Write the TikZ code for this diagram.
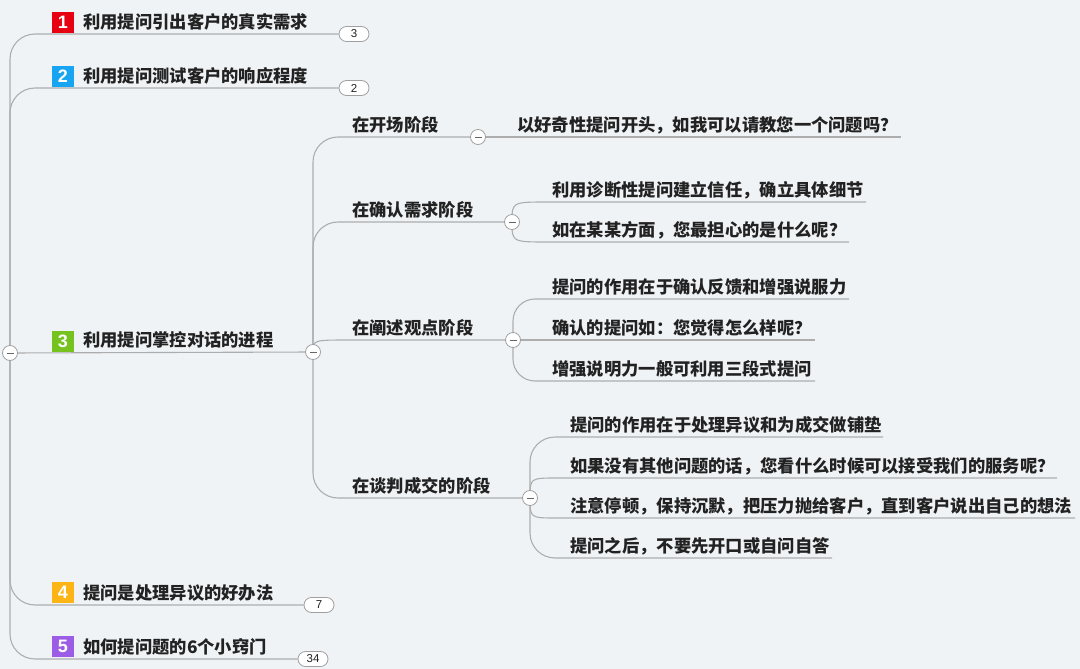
\documentclass[tikz,border=0pt]{standalone}
\usepackage{fontspec}
\newfontfamily\cjk{Noto Sans CJK SC}
\newfontfamily\numfont{Liberation Sans}
\usetikzlibrary{calc,backgrounds}
\definecolor{bg}{HTML}{F0F3F6}
\definecolor{ln}{HTML}{ADADAD}
\definecolor{circ}{HTML}{A0A0A0}
\definecolor{txt}{HTML}{222222}
\definecolor{ired}{HTML}{E60012}
\definecolor{iblue}{HTML}{17A4F0}
\definecolor{igreen}{HTML}{76C21F}
\definecolor{iorange}{HTML}{FDB515}
\definecolor{ipurple}{HTML}{9D5CE6}
\begin{document}
\begin{tikzpicture}[x=1pt,y=-1pt,
  conn/.style={draw=ln, line width=1.1pt},
  topic/.style={font=\cjk\bfseries\fontsize{17.3}{20}\selectfont, text=txt, inner sep=0pt, anchor=base west},
  fold/.style={circle, draw=circ, fill=white, line width=0.8pt, minimum size=15pt, inner sep=0pt,
    path picture={\draw[draw=black!60, line width=0.9pt] ($(path picture bounding box.center)+(-3.5,0)$) -- ++(7,0);}},
  badge/.style={draw=circ, fill=white, line width=0.8pt, rounded corners=7.5pt, minimum width=30pt, minimum height=15pt, inner sep=0pt, font=\numfont\fontsize{11.5}{12}\selectfont, text=txt},
  icon/.style={minimum width=22pt, minimum height=21pt, inner sep=0pt, text=white, font=\numfont\bfseries\fontsize{18}{18}\selectfont}
]
\useasboundingbox (0,0) rectangle (1080,669);

% root
\node[fold] (c0) at (10,353) {};

% level 1
\node[icon, fill=ired] (i1) at (63,22.5) {1};
\node[topic] (t1) at (83,28.5) {利用提问引出客户的真实需求};
\node[badge] (b1) at (354,34) {3};

\node[icon, fill=iblue] (i2) at (63,76.5) {2};
\node[topic] (t2) at (83,82.5) {利用提问测试客户的响应程度};
\node[badge] (b2) at (354,88) {2};

\node[icon, fill=igreen] (i3) at (63,341) {3};
\node[topic] (t3) at (83,346.5) {利用提问掌控对话的进程};
\node[fold] (c3) at (313,352) {};

\node[icon, fill=iorange] (i4) at (63,592.5) {4};
\node[topic] (t4) at (83,599.5) {提问是处理异议的好办法};
\node[badge] (b4) at (319,605) {7};

\node[icon, fill=ipurple] (i5) at (63,646.5) {5};
\node[topic] (t5) at (83,653.5) {如何提问题的6个小窍门};
\node[badge] (b5) at (313,659) {34};

% level 2
\node[topic] (s1) at (352,131.5) {在开场阶段};
\node[fold] (c31) at (478,137) {};
\node[topic] (s2) at (352,216.5) {在确认需求阶段};
\node[fold] (c32) at (512,222) {};
\node[topic] (s3) at (352,334.5) {在阐述观点阶段};
\node[fold] (c33) at (513,340) {};
\node[topic] (s4) at (352,492.5) {在谈判成交的阶段};
\node[fold] (c34) at (530,498) {};

% level 3
\node[topic] (u1) at (517,131.5) {以好奇性提问开头，如我可以请教您一个问题吗？};
\node[topic] (u2a) at (552,196.5) {利用诊断性提问建立信任，确立具体细节};
\node[topic] (u2b) at (552,236.5) {如在某某方面，您最担心的是什么呢？};
\node[topic] (u3a) at (552,293.5) {提问的作用在于确认反馈和增强说服力};
\node[topic] (u3b) at (552,334.5) {确认的提问如：您觉得怎么样呢？};
\node[topic] (u3c) at (552,375.5) {增强说明力一般可利用三段式提问};
\node[topic] (u4a) at (570,431.5) {提问的作用在于处理异议和为成交做铺垫};
\node[topic] (u4b) at (570,472.5) {如果没有其他问题的话，您看什么时候可以接受我们的服务呢？};
\node[topic] (u4c) at (570,512.5) {注意停顿，保持沉默，把压力抛给客户，直到客户说出自己的想法};
\node[topic] (u4d) at (570,552.5) {提问之后，不要先开口或自问自答};

% line ends / starts
\coordinate (s3L) at (350,340);
\coordinate (u1R) at (901,137);
\coordinate (u2aL) at (548,202); \coordinate (u2aR) at (866,202);
\coordinate (u2bL) at (548,242); \coordinate (u2bR) at (849,242);
\coordinate (u3aR) at (849,299);
\coordinate (u3bR) at (815,340);
\coordinate (u3cR) at (815,381);
\coordinate (u4aR) at (883,437);
\coordinate (u4bL) at (557,478); \coordinate (u4bR) at (1057,478);
\coordinate (u4cL) at (557,518); \coordinate (u4cR) at (1075,518);
\coordinate (u4dR) at (832,558);

\begin{pgfonlayer}{background}
\fill[bg] (0,0) rectangle (1080,669);
% level 1 connectors
\draw[conn, rounded corners=25pt] (c0.center) |- (b1.west);
\draw[conn, rounded corners=25pt] (c0.center) |- (b2.west);
\draw[conn] (c0.center) -- (c3.center);
\draw[conn, rounded corners=25pt] (c0.center) |- (b4.west);
\draw[conn, rounded corners=25pt] (c0.center) |- (b5.west);
% level 2 connectors
\draw[conn, rounded corners=25pt] (c3.center) |- (c31.center);
\draw[conn, rounded corners=25pt] (c3.center) |- (c32.center);
\draw[conn] (c3.center) .. controls (c3.center |- s3L) .. (s3L) -- (c33.center);
\draw[conn, rounded corners=25pt] (c3.center) |- (c34.center);
% level 3 connectors
\draw[conn] (c31.center) -- (u1R);
\draw[conn] (c32.center) .. controls (c32.center |- u2aL) .. (u2aL) -- (u2aR);
\draw[conn] (c32.center) .. controls (c32.center |- u2bL) .. (u2bL) -- (u2bR);
\draw[conn, rounded corners=22pt] (c33.center) |- (u3aR);
\draw[conn] (c33.center) -- (u3bR);
\draw[conn, rounded corners=22pt] (c33.center) |- (u3cR);
\draw[conn, rounded corners=25pt] (c34.center) |- (u4aR);
\draw[conn] (c34.center) .. controls (c34.center |- u4bL) .. (u4bL) -- (u4bR);
\draw[conn] (c34.center) .. controls (c34.center |- u4cL) .. (u4cL) -- (u4cR);
\draw[conn, rounded corners=25pt] (c34.center) |- (u4dR);
\end{pgfonlayer}
\end{tikzpicture}
\end{document}
